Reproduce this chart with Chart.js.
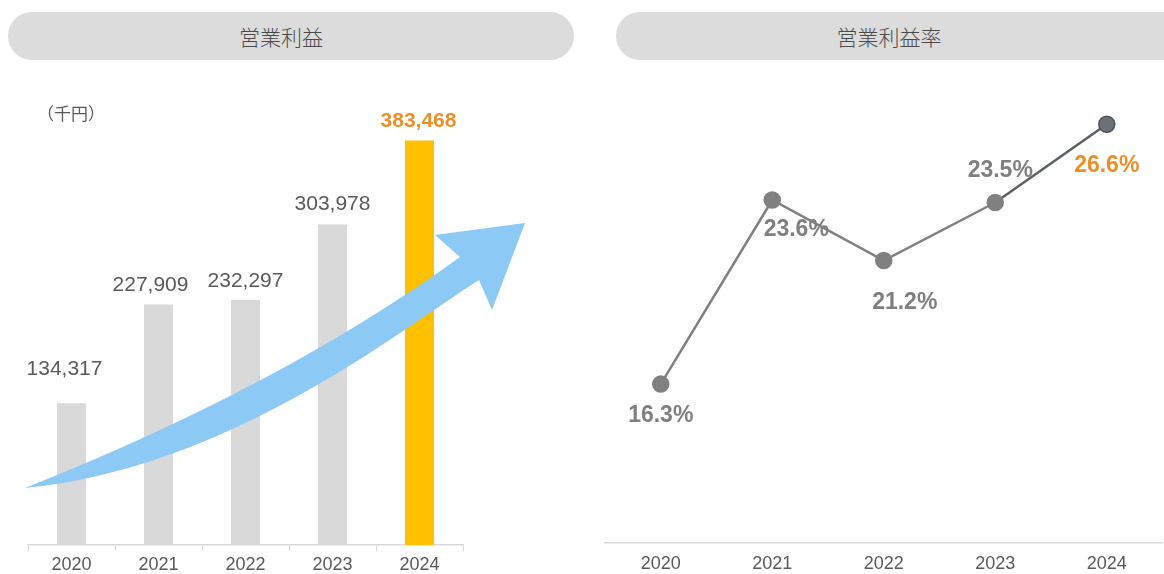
<!DOCTYPE html>
<html lang="ja">
<head>
<meta charset="utf-8">
<title>営業利益・営業利益率</title>
<script src="https://cdn.jsdelivr.net/npm/chart.js@4.4.1/dist/chart.umd.min.js"></script>
<style>
  html, body { margin: 0; padding: 0; background: #fff; overflow: hidden; }
  body { width: 1164px; height: 574px; position: relative; overflow: hidden; }
  canvas { position: absolute; top: 0; }
  #profitChart { left: 0; }
  #marginChart { left: 590px; }
  .pill {
    position: absolute; top: 12px; height: 48px; border-radius: 24px;
    background: #dcdcdc; color: #4a4a4a;
    font: 300 21px "Noto Sans CJK JP", sans-serif;
    line-height: 48px; text-align: center; z-index: 2;
  }
  .pill span { position: relative; }
  #pillLeft { left: 8px; width: 566px; }
  #pillLeft span { left: -10px; }
  #pillRight { left: 616px; width: 580px; }
  #pillRight span { left: -17px; }
  #unit {
    position: absolute; left: 37px; top: 100px; z-index: 2;
    font: 400 17px "Noto Sans CJK JP", sans-serif; color: #595959;
  }
</style>
</head>
<body>
<canvas id="profitChart" width="590" height="579"></canvas>
<canvas id="marginChart" width="582" height="586"></canvas>
<div class="pill" id="pillLeft"><span>営業利益</span></div>
<div class="pill" id="pillRight"><span>営業利益率</span></div>
<div id="unit">（千円）</div>

<script>
    // Fiscal years and values
    const years = ['2020', '2021', '2022', '2023', '2024'];
    const operatingProfit = [134317, 227909, 232297, 303978, 383468]; // 千円
    const operatingMargin = [16.3, 23.6, 21.2, 23.5, 26.6]; // %

    const GRAY_BAR = '#d9d9d9';
    const GOLD_BAR = '#ffc000';
    const ORANGE_TEXT = '#e8912b';
    const LABEL_GRAY = '#595959';
    const LINE_GRAY = '#808080';
    const latest = years.length - 1;

    // Label nudges (dx, dy) so the numbers sit where they read best
    const barLabelNudge = [[-7, -15], [-8, 0], [0, 0], [0, -1], [-1, 0]];
    const lineLabelOffset = [[0, 32], [24, 30], [21, 42], [5, -32], [0, 41]];

    // Value labels above the bars
    const barLabels = {
        id: 'barLabels',
        afterDatasetsDraw(chart) {
            const ctx = chart.ctx;
            const meta = chart.getDatasetMeta(0);
            ctx.save();
            ctx.textAlign = 'center';
            ctx.textBaseline = 'middle';
            meta.data.forEach((bar, i) => {
                const isLatest = i === latest;
                ctx.font = (isLatest ? 'bold 21px' : '21px') + ' "Liberation Sans", Arial, sans-serif';
                ctx.fillStyle = isLatest ? ORANGE_TEXT : LABEL_GRAY;
                const [dx, dy] = barLabelNudge[i];
                ctx.fillText(operatingProfit[i].toLocaleString('en-US'), bar.x + dx, bar.y - 19 + dy);
            });
            ctx.restore();
        }
    };

    // Curved growth arrow laid over the bars
    const growthArrow = {
        id: 'growthArrow',
        afterDatasetsDraw(chart) {
            const ctx = chart.ctx;
            ctx.save();
            ctx.fillStyle = '#8cc9f5';
            ctx.beginPath();
            ctx.moveTo(25, 488);
            ctx.quadraticCurveTo(282, 386, 460, 257);
            ctx.lineTo(435, 235);
            ctx.lineTo(525, 223);
            ctx.lineTo(492, 310);
            ctx.lineTo(479, 280);
            ctx.bezierCurveTo(400, 330, 230, 468, 25, 488);
            ctx.closePath();
            ctx.fill();
            ctx.restore();
        }
    };

    // Percentage labels around the line points
    const lineLabels = {
        id: 'lineLabels',
        afterDatasetsDraw(chart) {
            const ctx = chart.ctx;
            const meta = chart.getDatasetMeta(0);
            ctx.save();
            ctx.textAlign = 'center';
            ctx.textBaseline = 'middle';
            ctx.font = 'bold 23px "Liberation Sans", Arial, sans-serif';
            meta.data.forEach((pt, i) => {
                ctx.fillStyle = i === latest ? ORANGE_TEXT : '#7f7f7f';
                const [dx, dy] = lineLabelOffset[i];
                ctx.fillText(operatingMargin[i].toFixed(1) + '%', pt.x + dx, pt.y + dy);
            });
            ctx.restore();
        }
    };

    const xTickFont = { family: '"Liberation Sans", Arial, sans-serif', size: 18, lineHeight: 1 };

    new Chart(document.getElementById('profitChart'), {
        type: 'bar',
        data: {
            labels: years,
            datasets: [{
                data: operatingProfit,
                backgroundColor: years.map((y, i) => i === latest ? GOLD_BAR : GRAY_BAR),
                barPercentage: 0.333,
                categoryPercentage: 1
            }]
        },
        options: {
            responsive: false,
            animation: false,
            layout: { padding: { left: 28, right: 127, top: 102, bottom: 0 } },
            plugins: { legend: { display: false }, tooltip: { enabled: false } },
            scales: {
                x: {
                    grid: { drawOnChartArea: false, drawTicks: true, tickLength: 6, color: GRAY_BAR },
                    border: { color: GRAY_BAR, width: 1.5 },
                    ticks: { color: LABEL_GRAY, font: xTickFont, padding: 5 }
                },
                y: { display: false, min: 0, max: 420000 }
            }
        },
        plugins: [growthArrow, barLabels]
    });

    new Chart(document.getElementById('marginChart'), {
        type: 'line',
        data: {
            labels: years,
            datasets: [{
                data: operatingMargin,
                borderColor: LINE_GRAY,
                borderWidth: 2.5,
                tension: 0,
                segment: {
                    borderColor: c => c.p1DataIndex === latest ? '#5b6067' : LINE_GRAY
                },
                pointRadius: 8,
                pointBackgroundColor: years.map((y, i) => i === latest ? '#6d7177' : LINE_GRAY),
                pointBorderColor: years.map((y, i) => i === latest ? '#4f545a' : LINE_GRAY),
                pointBorderWidth: 1.5
            }]
        },
        options: {
            responsive: false,
            animation: false,
            layout: { padding: { left: 15, right: 2, top: 89, bottom: 1 } },
            plugins: { legend: { display: false }, tooltip: { enabled: false } },
            scales: {
                x: {
                    offset: true,
                    grid: { drawOnChartArea: false, drawTicks: false },
                    border: { color: GRAY_BAR, width: 1.5 },
                    ticks: { color: LABEL_GRAY, font: xTickFont, padding: 12 }
                },
                y: { display: false, min: 10, max: 28 }
            }
        },
        plugins: [lineLabels]
    });
</script>
</body>
</html>
